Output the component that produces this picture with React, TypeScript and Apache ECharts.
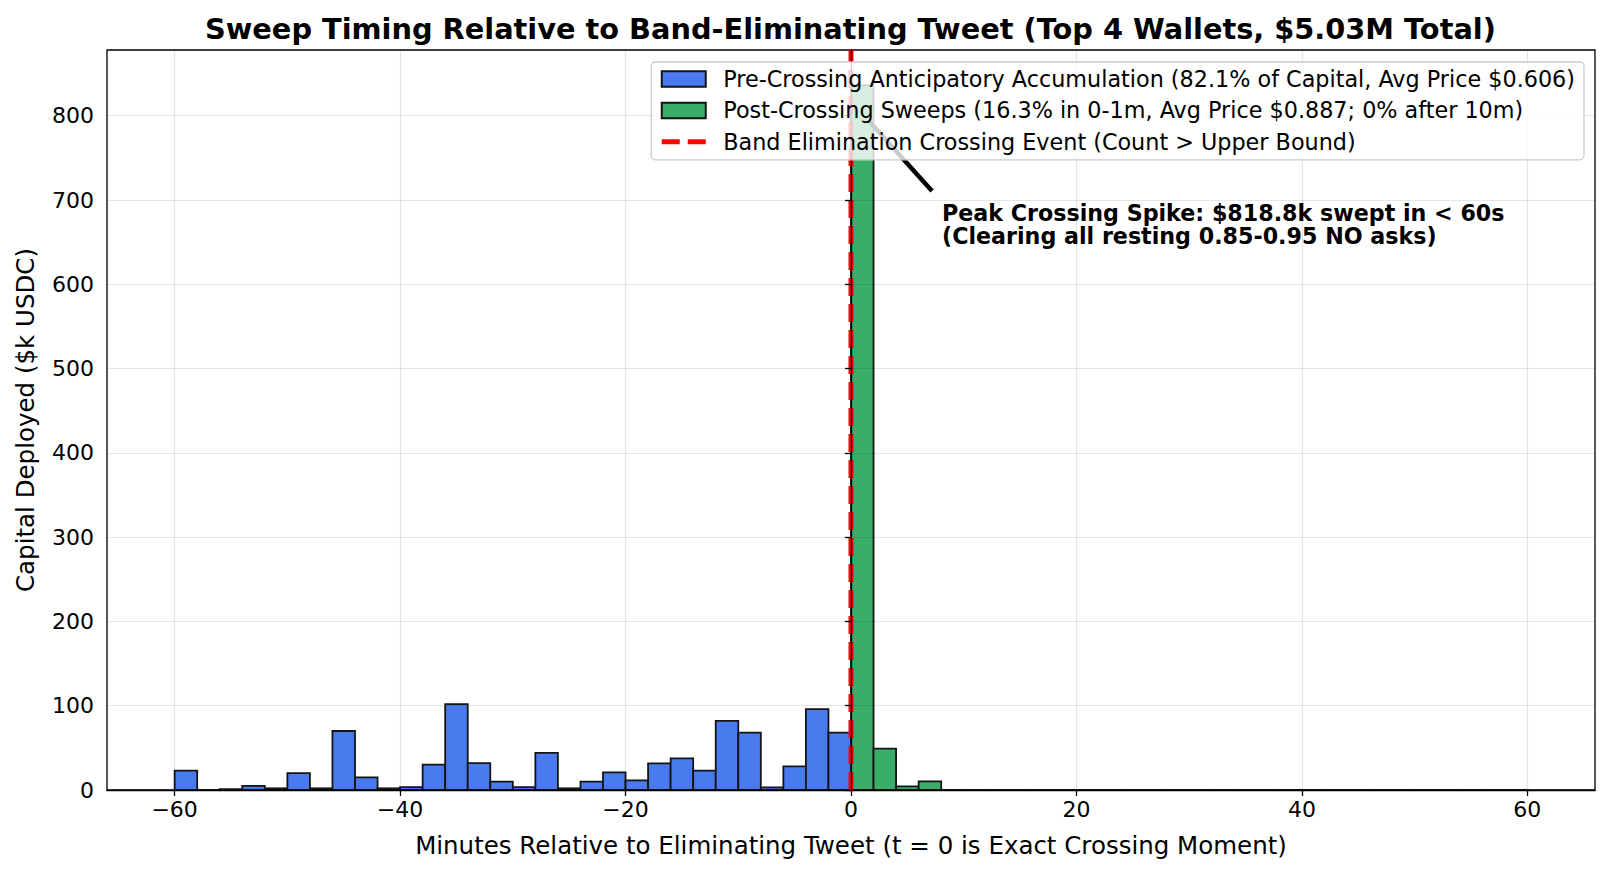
import React, { useEffect, useRef } from "react";
import * as echarts from "echarts";

const titleText =
  "Sweep Timing Relative to Band-Eliminating Tweet (Top 4 Wallets, $5.03M Total)";
const xAxisName = "Minutes Relative to Eliminating Tweet (t = 0 is Exact Crossing Moment)";
const yAxisName = "Capital Deployed ($k USDC)";

const preName = "Pre-Crossing Anticipatory Accumulation (82.1% of Capital, Avg Price $0.606)";
const postName = "Post-Crossing Sweeps (16.3% in 0-1m, Avg Price $0.887; 0% after 10m)";
const lineName = "Band Elimination Crossing Event (Count > Upper Bound)";

const annotationLines = [
  "Peak Crossing Spike: $818.8k swept in < 60s",
  "(Clearing all resting 0.85-0.95 NO asks)",
];

const binWidth = 2;

const preBinStarts = [
  -60, -58, -56, -54, -52, -50, -48, -46, -44, -42, -40, -38, -36, -34, -32,
  -30, -28, -26, -24, -22, -20, -18, -16, -14, -12, -10, -8, -6, -4, -2,
];
const preValues = [
  23, 0, 1, 5, 2, 20, 2, 70, 15, 2, 3.5, 30, 102, 32, 10,
  3.5, 44, 2, 10, 21, 11.5, 31.5, 37.5, 23, 82, 68, 3, 28, 96, 68,
];

const postBinStarts = [
  0, 2, 4, 6, 8, 10, 12, 14, 16, 18, 20, 22, 24, 26, 28,
  30, 32, 34, 36, 38, 40, 42, 44, 46, 48, 50, 52, 54, 56, 58,
];
const postValues = [
  836, 49, 4.3, 10.3, 0, 0, 0, 0, 0, 0, 0, 0, 0, 0, 0,
  0, 0, 0, 0, 0, 0, 0, 0, 0, 0, 0, 0, 0, 0, 0,
];

const crossingX = [0, 0];
const crossingY = [0, 878];

const xTicks = [-60, -40, -20, 0, 20, 40, 60];
const yTicks = [0, 100, 200, 300, 400, 500, 600, 700, 800];

const X_MIN = -66;
const X_MAX = 66;
const Y_MIN = 0;
const Y_MAX = 878;

const BLUE = "#4a7bee";
const GREEN = "#3aae68";
const RED = "#ff0000";
const EDGE = "#141414";
const FONT = "DejaVu Sans";
const DASH = [18, 8];

const fmtTick = (v: number) => (v < 0 ? "\u2212" + Math.abs(v) : String(v));

function histRender(color: string) {
  return (params: any, api: any) => {
    const x0 = api.value(0);
    const v = api.value(1);
    const p0 = api.coord([x0, 0]);
    const p1 = api.coord([x0 + binWidth, v]);
    return {
      type: "rect",
      shape: { x: p0[0], y: p1[1], width: p1[0] - p0[0], height: p0[1] - p1[1] },
      style: { fill: color, stroke: EDGE, lineWidth: 1.8 },
    };
  };
}

export default function App() {
  const ref = useRef<HTMLDivElement>(null);
  useEffect(() => {
    if (!ref.current) return;
    const chart = echarts.init(ref.current, undefined, { renderer: "svg" });
    const gridLineStyle = { color: "rgba(0,0,0,0.1)", width: 1.2, type: "solid" as const };
    chart.setOption({
      animation: false,
      backgroundColor: "#ffffff",
      title: {
        text: titleText,
        left: 205,
        top: 14,
        padding: 0,
        textStyle: { fontFamily: FONT, fontWeight: "bold", fontSize: 28.8, color: "#000" },
      },
      grid: {
        left: 107,
        right: 16,
        top: 50,
        bottom: 84,
        show: true,
        borderColor: "#000",
        borderWidth: 1.3,
        backgroundColor: "transparent",
      },
      legend: {
        orient: "vertical",
        right: 27,
        top: 62,
        padding: [6, 9, 7, 8],
        itemGap: 9.4,
        itemWidth: 44,
        itemHeight: 15.5,
        backgroundColor: "rgba(255,255,255,0.8)",
        borderColor: "#cccccc",
        borderWidth: 1.3,
        borderRadius: 4,
        z: 10,
        textStyle: {
          fontFamily: FONT,
          fontSize: 22.3,
          lineHeight: 22,
          color: "#000",
          padding: [0, 0, 0, 12.5],
        },
        data: [
          { name: preName, icon: "rect" },
          { name: postName, icon: "rect" },
          {
            name: lineName,
            itemStyle: { color: "rgba(0,0,0,0)", borderWidth: 0, opacity: 0 },
            lineStyle: { color: RED, width: 5, type: DASH },
          },
        ],
      },
      xAxis: {
        type: "value",
        min: X_MIN,
        max: X_MAX,
        z: 8,
        name: xAxisName,
        nameLocation: "middle",
        nameGap: 43,
        nameTextStyle: { fontFamily: FONT, fontSize: 24.5, color: "#000" },
        axisLine: { show: true, lineStyle: { color: "#000", width: 1.3 } },
        axisTick: {
          show: true,
          length: 6,
          inside: false,
          customValues: xTicks,
          lineStyle: { color: "#000", width: 1.3 },
        },
        axisLabel: {
          customValues: xTicks,
          formatter: fmtTick,
          margin: 8,
          fontFamily: FONT,
          fontSize: 22,
          color: "#000",
        },
        splitLine: { show: false },
      },
      yAxis: {
        type: "value",
        min: Y_MIN,
        max: Y_MAX,
        z: 8,
        name: yAxisName,
        nameLocation: "middle",
        nameGap: 69,
        nameTextStyle: { fontFamily: FONT, fontSize: 24.5, color: "#000" },
        axisLine: { show: true, lineStyle: { color: "#000", width: 1.3 } },
        axisTick: {
          show: true,
          length: 6,
          inside: false,
          customValues: yTicks,
          lineStyle: { color: "#000", width: 1.3 },
        },
        axisLabel: {
          customValues: yTicks,
          formatter: fmtTick,
          margin: 13,
          fontFamily: FONT,
          fontSize: 22,
          color: "#000",
        },
        splitLine: { show: false },
      },
      series: [
        {
          name: "grid-lines",
          type: "line",
          data: [],
          z: 1,
          silent: true,
          markLine: {
            silent: true,
            symbol: ["none", "none"],
            label: { show: false },
            lineStyle: gridLineStyle,
            emphasis: { disabled: true },
            data: [
              ...xTicks.map((v) => ({ xAxis: v })),
              ...yTicks.filter((v) => v > 0).map((v) => ({ yAxis: v })),
            ],
          },
        },
        {
          name: preName,
          type: "custom",
          z: 2,
          renderItem: histRender(BLUE),
          itemStyle: { color: BLUE, borderColor: EDGE, borderWidth: 1.5 },
          encode: { x: 0, y: 1 },
          data: preBinStarts.map((s, i) => [s, preValues[i]]),
        },
        {
          name: postName,
          type: "custom",
          z: 2,
          renderItem: histRender(GREEN),
          itemStyle: { color: GREEN, borderColor: EDGE, borderWidth: 1.5 },
          encode: { x: 0, y: 1 },
          data: postBinStarts.map((s, i) => [s, postValues[i]]),
        },
        {
          name: lineName,
          type: "line",
          z: 3,
          symbol: "none",
          silent: true,
          itemStyle: { color: RED },
          lineStyle: { color: RED, width: 5, type: DASH },
          data: crossingX.map((x, i) => [x, crossingY[i]]),
        },
      ],
      graphic: [
        {
          type: "line",
          z: 5,
          zlevel: 0,
          shape: { x1: 932, y1: 191, x2: 868, y2: 120 },
          style: { stroke: "#000", lineWidth: 4.5 },
        },
        {
          type: "text",
          z: 5,
          x: 942,
          y: 201,
          style: {
            text: annotationLines.join("\n"),
            fontFamily: FONT,
            fontWeight: "bold",
            fontSize: 22.2,
            lineHeight: 23,
            fill: "#000",
            textVerticalAlign: "top",
          },
        },
      ],
    });
    return () => chart.dispose();
  }, []);
  return (
    <div
      ref={ref}
      style={{ position: "fixed", left: 0, top: 0, width: 1611, height: 874, background: "#fff" }}
    />
  );
}
